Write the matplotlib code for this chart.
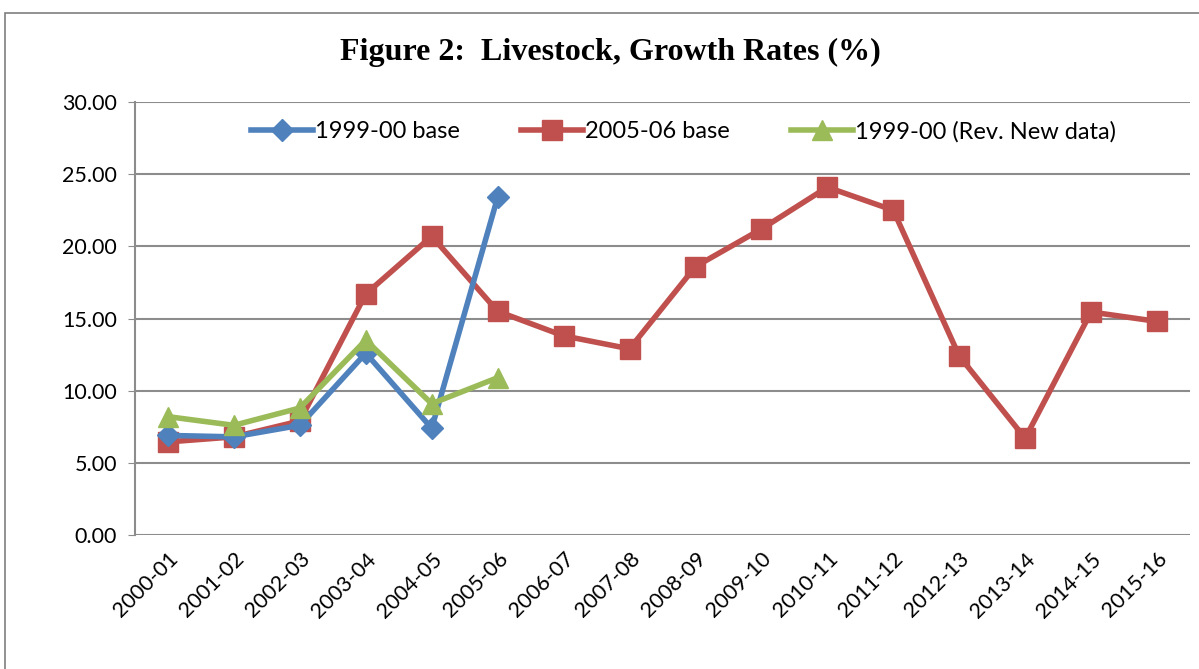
import matplotlib
matplotlib.use("Agg")
import matplotlib.pyplot as plt
from matplotlib.patches import Rectangle
import numpy as np

years = ["2000-01", "2001-02", "2002-03", "2003-04", "2004-05", "2005-06",
         "2006-07", "2007-08", "2008-09", "2009-10", "2010-11", "2011-12",
         "2012-13", "2013-14", "2014-15", "2015-16"]
base_1999 = [6.9, 6.8, 7.6, 12.6, 7.4, 23.4]
base_2005 = [6.45, 6.8, 7.9, 16.7, 20.7, 15.5, 13.8, 12.9, 18.6, 21.2,
             24.1, 22.5, 12.4, 6.7, 15.45, 14.8]
rev_1999 = [8.2, 7.6, 8.8, 13.5, 9.1, 10.9]

BLUE = "#4F81BD"
RED = "#C0504D"
GREEN = "#9BBB59"
GRID = "#8c8c8c"
SANS = ["Lato", "DejaVu Sans"]

fig = plt.figure(figsize=(11.99, 6.69), dpi=100)
fig.patch.set_facecolor("white")

# chart frame (left and top edges show)
fig.patches.append(Rectangle((5 / 1199, -0.1), 1.2, (669 - 13) / 669 + 0.1,
                             transform=fig.transFigure, fill=False,
                             edgecolor="#7f7f7f", linewidth=1.2))

ax = fig.add_axes([135 / 1199, 0.2003, 1 - 135 / 1199 - 0.0075, 0.8475 - 0.2003])
x = np.arange(len(years))

ax.plot(x[:len(base_1999)], base_1999, color=BLUE, lw=4, marker="D",
        markersize=11, label="1999-00 base", zorder=3)
ax.plot(x, base_2005, color=RED, lw=4, marker="s", markersize=14,
        label="2005-06 base", zorder=2)
ax.plot(x[:len(rev_1999)], rev_1999, color=GREEN, lw=4, marker="^",
        markersize=14, label="1999-00 (Rev. New data)", zorder=4)

ax.set_xlim(-0.5, len(years) - 0.5)
ax.set_ylim(0, 30)
ax.set_yticks(np.arange(0, 31, 5))
ax.set_yticklabels([f"{v:.2f}" for v in np.arange(0, 31, 5)],
                   fontsize=15.5, family=SANS)
ax.set_xticks(x)
ax.set_xticklabels(years, rotation=45, ha="right", rotation_mode="anchor",
                   fontsize=15.5, family=SANS)
ax.tick_params(axis="x", length=0, pad=10)
ax.tick_params(axis="y", length=5, color=GRID, pad=8)
ax.grid(axis="y", color=GRID, linewidth=1.5)
ax.set_axisbelow(True)
for side in ("top", "right", "bottom"):
    ax.spines[side].set_visible(False)
ax.spines["left"].set_color(GRID)
ax.spines["left"].set_linewidth(1.5)

ax.legend(loc="upper center", bbox_to_anchor=(0.52, 1.0), ncol=3, frameon=False,
          prop={"family": SANS, "size": 17}, columnspacing=2.6,
          handlelength=2.6, handletextpad=0.1, borderaxespad=0.4)

fig.text(0.509, 0.921, "Figure 2:  Livestock, Growth Rates (%)",
         ha="center", va="center", fontsize=23, fontweight="bold",
         family="Liberation Serif")

fig.savefig("out.png", dpi=100, facecolor="white")
